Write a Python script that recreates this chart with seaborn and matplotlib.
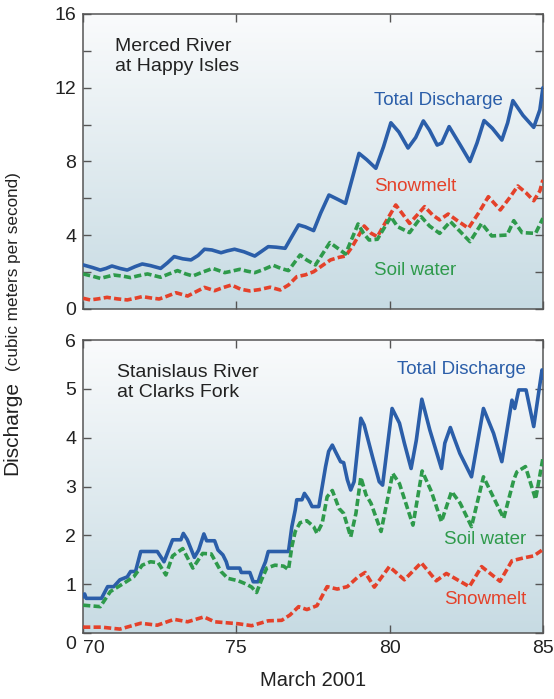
import numpy as np
import pandas as pd
import matplotlib
matplotlib.use("Agg")
import matplotlib.pyplot as plt
from matplotlib.colors import LinearSegmentedColormap
from matplotlib.transforms import ScaledTranslation
import seaborn as sns

sns.set_theme(style="white")
plt.rcParams["font.family"] = ["Liberation Sans", "DejaVu Sans"]

# ---- Merced River at Happy Isles (m^3/s), day of March 2001 ----
merced_total_day = [70.0, 70.3, 70.56, 70.75, 70.94, 71.2, 71.44, 71.7, 71.93, 72.2, 72.53, 72.75,
                    72.97, 73.25, 73.52, 73.75, 73.96, 74.2, 74.5, 74.7, 74.94, 75.25, 75.6, 75.8,
                    76.04, 76.3, 76.59, 76.8, 77.03, 77.25, 77.52, 77.75, 78.02, 78.3, 78.56, 78.8,
                    79.0, 79.25, 79.55, 79.8, 80.04, 80.3, 80.6, 80.85, 81.1, 81.3, 81.55, 81.7,
                    81.94, 82.3, 82.62, 82.85, 83.08, 83.35, 83.66, 83.85, 84.02, 84.35, 84.7,
                    84.9, 85.0]
merced_total = [2.39, 2.25, 2.11, 2.2, 2.33, 2.2, 2.11, 2.3, 2.44, 2.35, 2.2, 2.5,
                2.84, 2.72, 2.66, 2.9, 3.24, 3.2, 3.05, 3.15, 3.24, 3.1, 2.87, 3.1,
                3.38, 3.35, 3.29, 3.9, 4.56, 4.45, 4.25, 5.2, 6.18, 5.95, 5.73, 7.2,
                8.44, 8.1, 7.63, 8.8, 10.1, 9.6, 8.73, 9.3, 10.2, 9.7, 8.89, 9.0,
                9.89, 8.9, 8.0, 9.0, 10.22, 9.8, 9.16, 10.1, 11.3, 10.5, 9.85,
                10.8, 12.0]

merced_snow_day = [70.0, 70.23, 70.5, 70.78, 71.1, 71.44, 71.7, 71.93, 72.2, 72.48, 72.75, 73.03,
                   73.41, 73.7, 73.96, 74.29, 74.55, 74.84, 75.14, 75.44, 75.75, 76.1, 76.43,
                   76.7, 76.97, 77.25, 77.52, 77.8, 78.07, 78.35, 78.56, 78.78, 79.17, 79.4,
                   79.6, 79.9, 80.2, 80.4, 80.65, 80.9, 81.14, 81.4, 81.63, 81.91, 82.2, 82.57,
                   82.9, 83.22, 83.61, 83.9, 84.18, 84.45, 84.7, 84.9, 85.0]
merced_snow = [0.58, 0.49, 0.55, 0.63, 0.55, 0.49, 0.58, 0.67, 0.6, 0.54, 0.7, 0.88,
               0.7, 0.95, 1.17, 0.99, 1.15, 1.3, 1.07, 0.98, 1.05, 1.18, 1.03,
               1.3, 1.75, 1.85, 2.02, 2.35, 2.66, 2.8, 2.87, 3.38, 4.5, 4.1,
               3.92, 4.8, 5.64, 5.2, 4.64, 5.1, 5.55, 5.1, 4.83, 5.15, 4.8, 4.38,
               5.2, 6.09, 5.37, 6.0, 6.67, 6.3, 5.87, 6.4, 7.0]

merced_soil_day = [70.0, 70.3, 70.56, 71.0, 71.3, 71.55, 71.8, 72.1, 72.53, 72.8, 73.08, 73.35,
                   73.58, 73.9, 74.23, 74.62, 74.85, 75.11, 75.35, 75.6, 75.9, 76.2, 76.45,
                   76.7, 77.08, 77.3, 77.58, 78.05, 78.3, 78.56, 78.97, 79.15, 79.33, 79.6,
                   80.04, 80.26, 80.65, 81.03, 81.3, 81.63, 81.98, 82.3, 82.62, 83.0, 83.33,
                   83.83, 84.05, 84.32, 84.76, 85.0]
merced_soil = [1.9, 1.78, 1.66, 1.84, 1.78, 1.7, 1.8, 1.9, 1.72, 1.9, 2.08, 1.9,
               1.79, 2.0, 2.2, 1.97, 2.05, 2.15, 2.05, 1.97, 2.15, 2.37, 2.2,
               2.08, 2.93, 2.65, 2.39, 3.6, 3.3, 2.98, 4.61, 4.1, 3.74, 3.78,
               5.0, 4.46, 4.14, 5.0, 4.5, 4.1, 4.74, 4.2, 3.65, 4.64, 3.96,
               4.01, 4.79, 4.14, 4.1, 4.92]

# ---- Stanislaus River at Clarks Fork (m^3/s) ----
stan_total_day = [70.0, 70.05, 70.1, 70.6, 70.8, 71.0, 71.2, 71.44, 71.55, 71.71, 71.88, 72.42,
                  72.64, 72.92, 73.19, 73.27, 73.4, 73.63, 73.77, 73.94, 74.03, 74.29, 74.4,
                  74.56, 74.67, 74.73, 75.11, 75.16, 75.44, 75.55, 75.71, 75.82, 75.95, 76.04,
                  76.7, 76.81, 76.92, 76.97, 77.14, 77.22, 77.36, 77.47, 77.69, 77.91, 78.01,
                  78.13, 78.23, 78.4, 78.5, 78.62, 78.73, 78.84, 79.06, 79.17, 79.44, 79.66,
                  79.77, 80.08, 80.32, 80.48, 80.7, 80.87, 81.05, 81.31, 81.69, 81.8, 81.98,
                  82.1, 82.29, 82.67, 83.06, 83.39, 83.66, 83.99, 84.08, 84.21, 84.45, 84.7,
                  84.97, 85.0]
stan_total = [0.74, 0.8, 0.71, 0.71, 0.95, 0.95, 1.09, 1.15, 1.26, 1.26, 1.67, 1.67,
              1.46, 1.91, 1.91, 2.04, 1.91, 1.55, 1.7, 2.03, 1.89, 1.89, 1.7,
              1.6, 1.46, 1.33, 1.33, 1.24, 1.24, 1.05, 1.05, 1.26, 1.46, 1.67,
              1.67, 2.18, 2.52, 2.73, 2.73, 2.86, 2.73, 2.59, 2.59, 3.41, 3.72,
              3.85, 3.72, 3.51, 3.49, 3.14, 2.93, 3.1, 4.4, 4.26, 3.61, 3.1,
              3.03, 4.6, 4.3, 3.89, 3.37, 3.95, 4.79, 4.16, 3.37, 3.89, 4.21,
              4.0, 3.68, 3.2, 4.6, 4.09, 3.51, 4.77, 4.6, 4.98, 4.98, 4.23,
              5.39, 5.22]

stan_snow_day = [70.0, 70.6, 71.2, 71.88, 72.42, 72.97, 73.41, 73.94, 74.29, 75.06, 75.5, 76.04,
                 76.48, 76.75, 77.03, 77.3, 77.63, 77.96, 78.29, 78.62, 78.95, 79.2, 79.5,
                 79.99, 80.48, 81.03, 81.52, 81.85, 82.6, 83.0, 83.6, 83.99, 84.38, 84.7, 85.0]
stan_snow = [0.12, 0.12, 0.08, 0.2, 0.16, 0.28, 0.23, 0.33, 0.23, 0.19, 0.15, 0.25,
             0.26, 0.37, 0.54, 0.48, 0.56, 0.95, 0.9, 0.95, 1.14, 1.24, 0.94,
             1.36, 1.09, 1.44, 1.07, 1.22, 0.95, 1.36, 1.06, 1.48, 1.54, 1.58, 1.71]

stan_soil_day = [70.0, 70.56, 70.89, 71.33, 71.65, 71.93, 72.2, 72.45, 72.7, 72.92, 73.25, 73.58,
                 73.9, 74.18, 74.5, 74.72, 75.06, 75.33, 75.5, 75.66, 75.82, 75.99, 76.26,
                 76.54, 76.7, 76.81, 76.92, 77.08, 77.3, 77.52, 77.63, 77.8, 77.96, 78.13,
                 78.35, 78.5, 78.73, 78.9, 79.06, 79.23, 79.39, 79.72, 80.1, 80.32, 80.76,
                 81.06, 81.36, 81.69, 82.02, 82.3, 82.67, 83.06, 83.72, 84.05, 84.15, 84.43,
                 84.76, 85.0]
stan_soil = [0.57, 0.54, 0.85, 1.02, 1.15, 1.39, 1.46, 1.44, 1.19, 1.58, 1.73, 1.33,
             1.63, 1.62, 1.26, 1.12, 1.07, 1.0, 0.94, 0.83, 1.09, 1.33, 1.39,
             1.37, 1.3, 1.77, 2.08, 2.26, 2.3, 2.18, 2.04, 2.25, 2.79, 2.92,
             2.55, 2.45, 1.97, 2.45, 3.19, 2.83, 2.66, 2.08, 3.27, 3.06, 2.21,
             3.32, 2.9, 2.28, 2.9, 2.66, 2.18, 3.2, 2.35, 3.14, 3.3, 3.41,
             2.74, 3.58]

x_ticks = [70, 75, 80, 85]

BLUE = "#2b5ea9"
RED = "#e4412a"
GREEN = "#2e9a4b"
SPINE = "#555555"

bg_cmap = LinearSegmentedColormap.from_list("bg", ["#c7dbe3", "#fafbfc"])

fig = plt.figure(figsize=(5.54, 6.99), dpi=100)
ax_top = fig.add_axes([0.150, 0.558, 0.830, 0.422])
ax_bot = fig.add_axes([0.150, 0.0944, 0.830, 0.419])


def draw_panel(ax, series, ymax):
    grad = np.linspace(0, 1, 256).reshape(-1, 1)
    ax.imshow(grad, cmap=bg_cmap, origin="lower", aspect="auto",
              extent=[70, 85, 0, ymax], zorder=0)
    for day, q, color, dashed in series:
        df = pd.DataFrame({"day": day, "q": q})
        kw = dict(linewidth=2.6, color=color, zorder=3)
        if dashed:
            kw.update(linestyle=(0, (2.0, 0.9)))
        else:
            kw.update(solid_joinstyle="round", solid_capstyle="round")
        sns.lineplot(data=df, x="day", y="q", ax=ax, **kw)
    ax.set_xlim(70, 85)
    ax.set_ylim(0, ymax)
    ax.set_xlabel("")
    ax.set_ylabel("")
    for s in ax.spines.values():
        s.set_color(SPINE)
        s.set_linewidth(1.1)
        s.set_visible(True)
    ax.tick_params(which="both", direction="in", length=6, width=1.0, color=SPINE,
                   top=True, right=True, bottom=True, left=True,
                   labelsize=14, labelcolor="#222222", pad=5)
    ax.set_xticks(x_ticks)


draw_panel(ax_top, [(merced_total_day, merced_total, BLUE, False),
                    (merced_snow_day, merced_snow, RED, True),
                    (merced_soil_day, merced_soil, GREEN, True)], 16)
ax_top.set_yticks([0, 4, 8, 12, 16])
ax_top.set_yticks([2, 6, 10, 14], minor=True)
ax_top.tick_params(labelbottom=False)

draw_panel(ax_bot, [(stan_total_day, stan_total, BLUE, False),
                    (stan_soil_day, stan_soil, GREEN, True),
                    (stan_snow_day, stan_snow, RED, True)], 6)
ax_bot.set_yticks([0, 1, 2, 3, 4, 5, 6])
ax_bot.set_xticklabels([str(t) for t in x_ticks])

# nudge the corner labels apart
ax_bot.get_yticklabels()[0].set_transform(
    ax_bot.get_yticklabels()[0].get_transform() + ScaledTranslation(0, -7 / 72, fig.dpi_scale_trans))
ax_bot.get_xticklabels()[0].set_transform(
    ax_bot.get_xticklabels()[0].get_transform() + ScaledTranslation(8 / 72, 0, fig.dpi_scale_trans))

# panel titles
ax_top.text(0.07, 0.92, "Merced River\nat Happy Isles", transform=ax_top.transAxes,
            ha="left", va="top", fontsize=14, color="#222222", linespacing=1.25)
ax_bot.text(0.073, 0.92, "Stanislaus River\nat Clarks Fork", transform=ax_bot.transAxes,
            ha="left", va="top", fontsize=14, color="#222222", linespacing=1.25)

# series labels
ax_top.text(79.5, 11.33, "Total Discharge", color=BLUE, fontsize=13.5, ha="left", va="center")
ax_top.text(79.5, 6.63, "Snowmelt", color=RED, fontsize=13.5, ha="left", va="center")
ax_top.text(79.5, 2.11, "Soil water", color=GREEN, fontsize=13.5, ha="left", va="center")

ax_bot.text(84.45, 5.40, "Total Discharge", color=BLUE, fontsize=13.5, ha="right", va="center")
ax_bot.text(84.45, 1.91, "Soil water", color=GREEN, fontsize=13.5, ha="right", va="center")
ax_bot.text(84.45, 0.69, "Snowmelt", color=RED, fontsize=13.5, ha="right", va="center")

# axis titles
ax_bot.set_xlabel("March 2001", fontsize=14.5, color="#222222", labelpad=10)
fig.text(21 / 554, 1 - 475 / 699, "Discharge", rotation=90, ha="right", va="bottom",
         fontsize=15, color="#222222")
fig.text(21 / 554, 1 - 371 / 699, "(cubic meters per second)", rotation=90, ha="right",
         va="bottom", fontsize=12.3, color="#222222")

fig.savefig("out.png", dpi=100)
